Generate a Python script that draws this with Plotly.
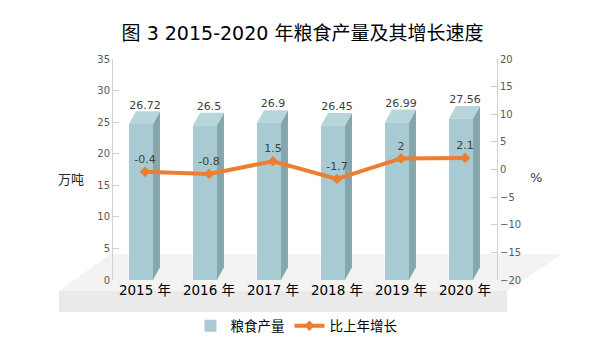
import plotly.graph_objects as go

years = ["2015 年", "2016 年", "2017 年", "2018 年", "2019 年", "2020 年"]
output = [26.72, 26.5, 26.9, 26.45, 26.99, 27.56]
growth = [-0.4, -0.8, 1.5, -1.7, 2, 2.1]

FONT = "DejaVu Sans, Noto Sans CJK SC, sans-serif"
CJK = "Noto Sans CJK SC, DejaVu Sans, sans-serif"

front_col = "#a8cbd3"
side_col = "#87a6ab"
top_col = "#b7d6dc"
line_col = "#ed7d31"

idx = list(range(len(years)))
depth = 2.0          # depth of bar in y units
fx0, fx1, bx = -0.25, 0.125, 0.234  # front left, front right, back right (category units)

fig = go.Figure()

# front faces of bars
fig.add_trace(go.Bar(
    x=idx, y=[v - depth for v in output], base=0,
    width=fx1 - fx0, offset=fx0,
    marker=dict(color=front_col, line=dict(width=0)),
    name="粮食产量", yaxis="y", hoverinfo="skip",
))

# bar value labels
fig.add_trace(go.Scatter(
    x=idx, y=output, mode="text", text=[str(v) for v in output],
    textposition="top center",
    textfont=dict(family=FONT, size=11, color="#404040"),
    showlegend=False, yaxis="y", hoverinfo="skip", cliponaxis=False,
))

# growth line
fig.add_trace(go.Scatter(
    x=idx, y=growth, mode="lines+markers+text", name="比上年增长",
    text=[str(g) for g in growth], textposition="top center",
    textfont=dict(family=FONT, size=11, color="#404040"),
    line=dict(color=line_col, width=4),
    marker=dict(symbol="diamond", size=8, color=line_col),
    yaxis="y2", hoverinfo="skip", cliponaxis=False,
))

shapes = []
# floor (decorative 3D base)
shapes.append(dict(type="path", xref="paper", yref="paper", layer="below",
                   path="M -0.1406,-0.0498 L -0.0078,0.1176 L 1.169,0.1176 L 1.026,-0.0498 Z",
                   fillcolor="#f3f3f3", line=dict(width=0)))
shapes.append(dict(type="rect", xref="paper", yref="paper", layer="below",
                   x0=-0.1406, x1=1.026, y0=-0.145, y1=-0.0498,
                   fillcolor="#eaeaea", line=dict(width=0)))

for i, v in zip(idx, output):
    side = (f"M {i+fx1},0 L {i+bx},{depth} L {i+bx},{v} L {i+fx1},{v-depth} Z")
    top = (f"M {i+fx0},{v-depth} L {i+fx1},{v-depth} L {i+bx},{v} "
           f"L {i+fx0+(bx-fx1)},{v} Z")
    shapes.append(dict(type="path", xref="x", yref="y", layer="below", path=side,
                       fillcolor=side_col, line=dict(width=0)))
    shapes.append(dict(type="path", xref="x", yref="y", layer="below", path=top,
                       fillcolor=top_col, line=dict(width=0)))

annotations = [
    dict(text="万吨", xref="paper", yref="paper", x=-0.109, y=0.46,
         xanchor="center", yanchor="middle",
         showarrow=False, font=dict(family=CJK, size=13, color="#262626")),
    dict(text="%", xref="paper", yref="paper", x=1.102, y=0.466,
         xanchor="center", yanchor="middle",
         showarrow=False, font=dict(family=FONT, size=13, color="#404040")),
]

fig.update_layout(
    width=605, height=340,
    margin=dict(l=113, r=108, t=59, b=60, autoexpand=False),
    paper_bgcolor="white", plot_bgcolor="rgba(0,0,0,0)",
    title=dict(text="图 3 2015-2020 年粮食产量及其增长速度",
               x=0.5, xanchor="center", y=1 - 33 / 340, yanchor="middle",
               xref="container", yref="container",
               font=dict(family=FONT, size=19, color="#000000")),
    xaxis=dict(range=[-0.5, 5.5], tickvals=idx, ticktext=years, automargin=False,
               showgrid=False, zeroline=False, showline=False, ticks="",
               tickfont=dict(family=FONT, size=13.5, color="#000000")),
    yaxis=dict(range=[0, 35], dtick=5, showgrid=False, zeroline=False, automargin=False,
               showline=True, linecolor="#d0d0d0", linewidth=1,
               ticks="inside", ticklen=6, tickcolor="#d0d0d0",
               tickfont=dict(family=FONT, size=10, color="#595959")),
    yaxis2=dict(range=[-20, 20], dtick=5, overlaying="y", side="right",
                showgrid=False, zeroline=False, automargin=False,
                showline=True, linecolor="#d0d0d0", linewidth=1,
                ticks="inside", ticklen=6, tickcolor="#d0d0d0",
                tickfont=dict(family=FONT, size=10, color="#595959")),
    legend=dict(orientation="h", x=0.49, xanchor="center", y=1 - 326 / 340,
                yanchor="middle", xref="container", yref="container",
                font=dict(family=CJK, size=13.5, color="#000000"),
                bgcolor="rgba(0,0,0,0)", traceorder="normal"),
    shapes=shapes, annotations=annotations, showlegend=True,
)

fig.write_html("out.html")
